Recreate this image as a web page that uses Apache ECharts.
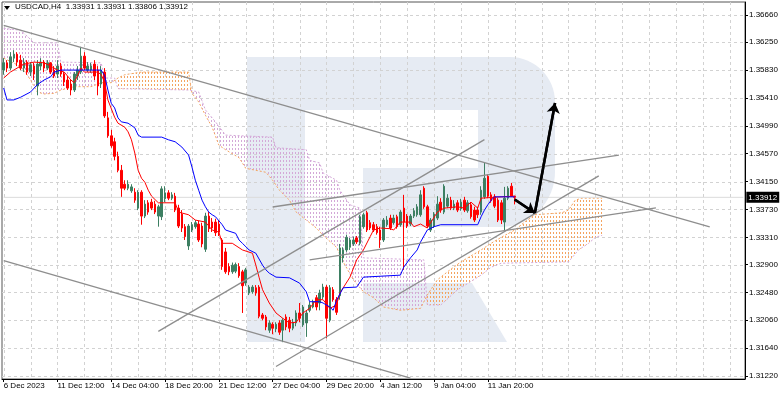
<!DOCTYPE html>
<html><head><meta charset="utf-8">
<script src="https://cdn.jsdelivr.net/npm/echarts@6/dist/echarts.min.js"></script>
<style>html,body{margin:0;padding:0;background:#fff}#c{width:782px;height:396px}</style>
</head><body><div id="c"></div>
<script>
const symbolTitle = 'USDCAD,H4';
const barCount = 221;
const xTickLabels = ['6 Dec 2023','11 Dec 12:00','14 Dec 04:00','18 Dec 20:00','21 Dec 12:00','27 Dec 04:00','29 Dec 20:00','4 Jan 12:00','9 Jan 04:00','11 Jan 20:00'];
const yTickLabels = ['1.36660','1.36250','1.35830','1.35410','1.34990','1.34570','1.34150','1.33730','1.33310','1.32900','1.32480','1.32060','1.31640','1.31220'];
const yMin = 1.31175, yMax = 1.36856;
// [open, close, low, high]
const ohlc = [
[1.3583,1.3594,1.3576,1.3601],[1.3594,1.3586,1.3580,1.3598],[1.3586,1.3603,1.3583,1.3610],[1.3601,1.3607,1.3595,1.3613],
[1.3607,1.3595,1.3589,1.3610],[1.3598,1.3586,1.3583,1.3606],[1.3586,1.3595,1.3580,1.3601],[1.3595,1.3580,1.3576,1.3598],
[1.3580,1.3591,1.3574,1.3595],[1.3589,1.3577,1.3568,1.3594],[1.3559,1.3592,1.3545,1.3598],[1.3589,1.3595,1.3583,1.3601],
[1.3595,1.3586,1.3580,1.3598],[1.3586,1.3594,1.3583,1.3598],[1.3594,1.3580,1.3577,1.3595],[1.3583,1.3574,1.3571,1.3589],
[1.3577,1.3589,1.3571,1.3598],[1.3589,1.3577,1.3573,1.3594],[1.3577,1.3565,1.3559,1.3580],[1.3568,1.3556,1.3553,1.3574],
[1.3562,1.3553,1.3545,1.3568],[1.3553,1.3577,1.3550,1.3580],[1.3574,1.3583,1.3568,1.3589],[1.3580,1.3604,1.3577,1.3618],
[1.3604,1.3586,1.3583,1.3610],[1.3583,1.3589,1.3580,1.3595],[1.3583,1.3589,1.3579,1.3594],[1.3592,1.3574,1.3568,1.3598],
[1.3583,1.3559,1.3545,1.3589],[1.3562,1.3583,1.3556,1.3589],[1.3580,1.3514,1.3511,1.3586],[1.3511,1.3484,1.3481,1.3520],
[1.3484,1.3469,1.3466,1.3493],[1.3475,1.3453,1.3447,1.3481],[1.3453,1.3432,1.3429,1.3460],[1.3432,1.3405,1.3392,1.3440],
[1.3411,1.3405,1.3402,1.3417],[1.3405,1.3411,1.3402,1.3417],[1.3401,1.3407,1.3398,1.3411],[1.3399,1.3387,1.3383,1.3405],
[1.3375,1.3399,1.3372,1.3402],[1.3399,1.3363,1.3350,1.3402],[1.3363,1.3381,1.3360,1.3387],[1.3383,1.3369,1.3365,1.3387],
[1.3384,1.3375,1.3372,1.3389],[1.3381,1.3369,1.3366,1.3386],[1.3363,1.3377,1.3347,1.3380],[1.3362,1.3404,1.3357,1.3408],
[1.3389,1.3398,1.3384,1.3408],[1.3398,1.3390,1.3387,1.3402],[1.3390,1.3395,1.3387,1.3399],[1.3393,1.3372,1.3369,1.3398],
[1.3375,1.3348,1.3345,1.3380],[1.3366,1.3345,1.3339,1.3372],[1.3347,1.3332,1.3327,1.3351],[1.3318,1.3348,1.3312,1.3351],
[1.3342,1.3350,1.3339,1.3354],[1.3347,1.3353,1.3344,1.3357],[1.3351,1.3327,1.3324,1.3356],[1.3348,1.3321,1.3316,1.3353],
[1.3313,1.3363,1.3309,1.3368],[1.3363,1.3344,1.3339,1.3369],[1.3354,1.3345,1.3339,1.3360],[1.3354,1.3338,1.3333,1.3359],
[1.3351,1.3339,1.3333,1.3357],[1.3327,1.3287,1.3282,1.3330],[1.3309,1.3279,1.3276,1.3315],[1.3287,1.3279,1.3274,1.3292],
[1.3279,1.3289,1.3276,1.3293],[1.3280,1.3290,1.3277,1.3293],[1.3287,1.3273,1.3270,1.3292],[1.3279,1.3258,1.3217,1.3282],
[1.3262,1.3282,1.3258,1.3285],[1.3247,1.3256,1.3244,1.3259],[1.3249,1.3256,1.3246,1.3259],[1.3255,1.3247,1.3243,1.3259],
[1.3256,1.3212,1.3209,1.3259],[1.3214,1.3209,1.3206,1.3217],[1.3211,1.3196,1.3191,1.3214],[1.3191,1.3202,1.3187,1.3206],
[1.3200,1.3194,1.3185,1.3203],[1.3193,1.3200,1.3188,1.3203],[1.3202,1.3188,1.3184,1.3206],[1.3191,1.3206,1.3173,1.3209],
[1.3211,1.3196,1.3191,1.3215],[1.3206,1.3194,1.3188,1.3211],[1.3194,1.3203,1.3191,1.3208],[1.3202,1.3217,1.3197,1.3221],
[1.3217,1.3209,1.3203,1.3232],[1.3199,1.3226,1.3196,1.3229],[1.3202,1.3217,1.3181,1.3221],[1.3221,1.3229,1.3218,1.3234],
[1.3226,1.3234,1.3224,1.3237],[1.3240,1.3226,1.3221,1.3244],[1.3232,1.3247,1.3221,1.3252],[1.3241,1.3256,1.3238,1.3261],
[1.3256,1.3209,1.3179,1.3259],[1.3206,1.3255,1.3203,1.3259],[1.3252,1.3237,1.3234,1.3256],[1.3237,1.3218,1.3214,1.3241],
[1.3243,1.3315,1.3237,1.3321],[1.3300,1.3312,1.3293,1.3316],[1.3312,1.3331,1.3309,1.3335],[1.3316,1.3327,1.3312,1.3330],
[1.3321,1.3327,1.3318,1.3332],[1.3330,1.3324,1.3321,1.3333],[1.3322,1.3362,1.3319,1.3365],[1.3347,1.3365,1.3344,1.3368],
[1.3368,1.3342,1.3339,1.3371],[1.3353,1.3345,1.3342,1.3357],[1.3350,1.3342,1.3339,1.3354],[1.3347,1.3338,1.3335,1.3351],
[1.3342,1.3327,1.3315,1.3347],[1.3327,1.3357,1.3324,1.3360],[1.3350,1.3357,1.3347,1.3363],[1.3360,1.3345,1.3342,1.3365],
[1.3353,1.3360,1.3350,1.3365],[1.3362,1.3347,1.3344,1.3365],[1.3350,1.3369,1.3347,1.3372],[1.3375,1.3354,1.3282,1.3395],
[1.3363,1.3348,1.3345,1.3366],[1.3351,1.3363,1.3348,1.3366],[1.3363,1.3371,1.3360,1.3375],[1.3365,1.3377,1.3362,1.3381],
[1.3365,1.3395,1.3362,1.3402],[1.3405,1.3377,1.3374,1.3408],[1.3377,1.3348,1.3345,1.3380],[1.3342,1.3357,1.3339,1.3360],
[1.3348,1.3366,1.3345,1.3369],[1.3360,1.3381,1.3357,1.3393],[1.3384,1.3372,1.3368,1.3390],[1.3369,1.3408,1.3366,1.3411],
[1.3378,1.3390,1.3375,1.3396],[1.3387,1.3375,1.3372,1.3392],[1.3375,1.3381,1.3372,1.3387],[1.3383,1.3372,1.3369,1.3387],
[1.3374,1.3384,1.3371,1.3389],[1.3387,1.3372,1.3369,1.3392],[1.3371,1.3383,1.3368,1.3387],[1.3380,1.3362,1.3359,1.3384],
[1.3372,1.3357,1.3354,1.3377],[1.3372,1.3365,1.3360,1.3377],[1.3369,1.3402,1.3365,1.3408],[1.3392,1.3420,1.3389,1.3443],
[1.3423,1.3393,1.3390,1.3426],[1.3395,1.3386,1.3383,1.3399],[1.3392,1.3378,1.3375,1.3396],[1.3387,1.3357,1.3354,1.3390],
[1.3383,1.3357,1.3351,1.3387],[1.3354,1.3390,1.3342,1.3407],[1.3390,1.3405,1.3387,1.3408],[1.3408,1.3393,1.3392,1.3413],
[1.33931,1.33912,1.33806,1.33931]
];
// Ichimoku lines: [bar, price]
const tenkan = [[0,1.3571],[2,1.3580],[6,1.3592],[9,1.3595],[12,1.3594],[14,1.3589],[16,1.3583],[18,1.3580],[20,1.3568],[21,1.3564],[23,1.3586],[24,1.3580],[28,1.3580],[29,1.3576],[30,1.3565],[31,1.3538],[33,1.3512],[34,1.3503],[36,1.3497],[37,1.3490],[38,1.3478],[39,1.3458],[40,1.3432],[41,1.3420],[42,1.3414],[43,1.3402],[44,1.3393],[46,1.3383],[51,1.3383],[52,1.3369],[55,1.3365],[57,1.3357],[60,1.3354],[62,1.3342],[64,1.3339],[65,1.3322],[68,1.3322],[71,1.3312],[74,1.3307],[75,1.3289],[76,1.3270],[77,1.3252],[79,1.3232],[81,1.3217],[83,1.3209],[85,1.3202],[87,1.3203],[89,1.3217],[91,1.3224],[93,1.3237],[95,1.3237],[97,1.3224],[99,1.3229],[100,1.3247],[103,1.3271],[105,1.3297],[107,1.3312],[109,1.3332],[110,1.3342],[112,1.3345],[115,1.3344],[116,1.3342],[118,1.3354],[121,1.3354],[122,1.3347],[124,1.3351],[126,1.3345],[129,1.3369],[131,1.3375],[135,1.3377],[137,1.3375],[139,1.3384],[141,1.3375],[142,1.3390],[148,1.3392],[152,1.3393]];
const kijun = [[0,1.3556],[1,1.3538],[3,1.3538],[5,1.3542],[8,1.3550],[10,1.3561],[12,1.3568],[14,1.3573],[15,1.3580],[17,1.3583],[29,1.3583],[30,1.3575],[31,1.3553],[32,1.3533],[33,1.3526],[34,1.3511],[35,1.3505],[37,1.3503],[39,1.3496],[40,1.3485],[41,1.3482],[47,1.3482],[49,1.3478],[51,1.3475],[53,1.3467],[55,1.3455],[56,1.3437],[57,1.3417],[58,1.3402],[59,1.3387],[60,1.3377],[61,1.3369],[62,1.3365],[63,1.3362],[65,1.3350],[66,1.3342],[69,1.3337],[70,1.3327],[71,1.3322],[73,1.3312],[75,1.3307],[77,1.3289],[78,1.3282],[79,1.3277],[81,1.3271],[85,1.3270],[88,1.3262],[90,1.3249],[91,1.3234],[94,1.3234],[95,1.3232],[97,1.3226],[98,1.3221],[99,1.3236],[101,1.3255],[105,1.3256],[107,1.3271],[118,1.3274],[119,1.3286],[121,1.3300],[123,1.3312],[124,1.3324],[126,1.3342],[128,1.3347],[130,1.3350],[141,1.3350],[142,1.3362],[143,1.3372],[144,1.3380],[145,1.3387],[146,1.3392],[152,1.3392]];
const senkouA = [[0,1.3601],[4,1.3591],[6,1.3583],[8,1.3568],[10,1.3550],[12,1.3547],[15,1.3548],[17,1.3553],[21,1.3558],[26,1.3558],[29,1.3564],[32,1.3564],[34,1.3571],[36,1.3576],[41,1.3580],[55,1.3580],[56,1.3548],[58,1.3535],[60,1.3515],[62,1.3497],[64,1.3470],[66,1.3463],[70,1.3451],[72,1.3435],[78,1.3429],[80,1.3417],[82,1.3402],[85,1.3387],[87,1.3369],[90,1.3357],[93,1.3345],[95,1.3334],[99,1.3316],[101,1.3294],[104,1.3267],[107,1.3249],[110,1.3240],[113,1.3226],[118,1.3221],[124,1.3224],[126,1.3244],[129,1.3267],[132,1.3279],[136,1.3294],[142,1.3312],[145,1.3322],[148,1.3331],[152,1.3342],[155,1.3354],[158,1.3365],[166,1.3368],[168,1.3372],[170,1.3387],[172,1.3390],[178,1.3390]];
const senkouB = [[0,1.3646],[5,1.3643],[7,1.3634],[9,1.3624],[16,1.3624],[17,1.3595],[29,1.3594],[30,1.3571],[33,1.3571],[34,1.3555],[55,1.3553],[58,1.3550],[60,1.3523],[63,1.3505],[66,1.3485],[80,1.3482],[81,1.3466],[90,1.3463],[91,1.3447],[94,1.3443],[95,1.3428],[99,1.3417],[100,1.3402],[103,1.3380],[106,1.3375],[107,1.3300],[125,1.3297],[126,1.3229],[130,1.3229],[135,1.3252],[142,1.3274],[145,1.3286],[148,1.3292],[168,1.3294],[171,1.3312],[174,1.3322],[176,1.3331],[178,1.3334]];
const trendLines = [
  [[0,1.36502],[210,1.33468]],
  [[0,1.32960],[121,1.31190]],
  [[46,1.31893],[143,1.34782]],
  [[81,1.31363],[177,1.34235]],
  [[80,1.33767],[183,1.34547]],
  [[91,1.32971],[194,1.33753]]
];
const arrows = [
  [[152,1.33880],[158,1.33676]],
  [[158,1.33676],[164,1.35334]]
];

const FONT = 'Liberation Sans, Arial, sans-serif';
const bars = Array.from({length: barCount}, (_, i) => String(i));
const yTickValues = yTickLabels.map(Number);
const last = ohlc[ohlc.length - 1];
const lastClose = last[1];
const labelIdx = (i) => i % 16 === 0 && i / 16 < xTickLabels.length;

function makePattern(color) {
  const c = document.createElement('canvas');
  c.width = 3; c.height = 4;
  const g = c.getContext('2d');
  g.fillStyle = color;
  g.fillRect(1, 0, 1, 2);
  return c;
}
const patOrange = makePattern('#f4a460');
const patPink = makePattern('#d4a8d8');

function interp(pts, x) {
  if (x <= pts[0][0]) return pts[0][1];
  for (let i = 1; i < pts.length; i++) {
    if (x <= pts[i][0]) {
      const a = pts[i - 1], b = pts[i];
      const t = (x - a[0]) / ((b[0] - a[0]) || 1);
      return a[1] + t * (b[1] - a[1]);
    }
  }
  return pts[pts.length - 1][1];
}

function renderCloud(params, api) {
  const A = senkouA.map(p => api.coord(p));
  const B = senkouB.map(p => api.coord(p));
  const xs = Array.from(new Set(A.map(p => p[0]).concat(B.map(p => p[0])))).sort((a, b) => a - b);
  const rows = xs.map(x => [x, interp(A, x), interp(B, x)]);
  const runs = [];
  let cur = null;
  for (let i = 0; i < rows.length; i++) {
    const r = rows[i];
    const up = r[1] <= r[2];
    if (!cur) { cur = {up, pts: [r]}; continue; }
    if (up === cur.up) { cur.pts.push(r); }
    else {
      const p = rows[i - 1];
      const d0 = p[1] - p[2], d1 = r[1] - r[2];
      const t = d0 / (d0 - d1);
      const xc = p[0] + t * (r[0] - p[0]);
      const yc = p[1] + t * (r[1] - p[1]);
      const c = [xc, yc, yc];
      cur.pts.push(c); runs.push(cur);
      cur = {up, pts: [c, r]};
    }
  }
  runs.push(cur);
  return {
    type: 'group',
    children: runs.map(run => ({
      type: 'polygon',
      shape: {points: run.pts.map(r => [r[0], r[1]]).concat(run.pts.slice().reverse().map(r => [r[0], r[2]]))},
      style: {fill: {image: run.up ? patOrange : patPink, repeat: 'repeat'}, stroke: null}
    }))
  };
}

function renderGrid(params, api) {
  const cs = params.coordSys;
  const ch = [];
  yTickValues.forEach(v => {
    const y = Math.round(api.coord([0, v])[1]) + 0.5;
    ch.push({type: 'line', shape: {x1: cs.x, y1: y, x2: cs.x + cs.width, y2: y},
      style: {stroke: '#d2d2d2', lineWidth: 1, lineDash: [3, 3]}});
  });
  for (let i = 0; i < bars.length; i += 8) {
    const x = Math.round(api.coord([i, yTickValues[0]])[0]) + 0.5;
    ch.push({type: 'line', shape: {x1: x, y1: cs.y, x2: x, y2: cs.y + cs.height},
      style: {stroke: '#d2d2d2', lineWidth: 1, lineDash: [3, 3]}});
  }
  return {type: 'group', children: ch};
}

const wm = '#e6ebf3';
const header = symbolTitle + '  ' + [last[0], last[3], last[2], last[1]].map(v => v.toFixed(5)).join(' ');

const series = [
  {type: 'custom', name: 'grid', data: [0], renderItem: renderGrid, z: 1, silent: true},
  {type: 'custom', name: 'cloud', data: [0], renderItem: renderCloud, z: 2, silent: true},
  {type: 'line', name: 'Senkou A', data: senkouA, symbol: 'none', z: 2,
    lineStyle: {color: '#f4a460', width: 1, type: [2, 2]}},
  {type: 'line', name: 'Senkou B', data: senkouB, symbol: 'none', z: 2,
    lineStyle: {color: '#d4a8d8', width: 1, type: [2, 2]}},
  {type: 'line', name: 'bid', data: [[0, lastClose], [barCount - 1, lastClose]], symbol: 'none', z: 2,
    lineStyle: {color: '#dcdcdc', width: 1},
    endLabel: {show: true, formatter: () => lastClose.toFixed(5), backgroundColor: '#000', color: '#fff',
      fontSize: 8, fontFamily: FONT, padding: [2, 2, 1, 2], distance: 3}},
  {type: 'candlestick', name: 'USDCAD', data: ohlc, barWidth: 2, z: 3,
    itemStyle: {color: '#3d7f62', color0: '#ff0000', borderColor: '#3d7f62', borderColor0: '#ff0000', borderWidth: 1}},
  {type: 'line', name: 'Tenkan', data: tenkan, symbol: 'none', z: 4, lineStyle: {color: '#ff0000', width: 1}},
  {type: 'line', name: 'Kijun', data: kijun, symbol: 'none', z: 4, lineStyle: {color: '#0000ff', width: 1}}
];
trendLines.forEach((tl, i) => series.push({type: 'line', name: 'trend' + i, data: tl, symbol: 'none', z: 5,
  lineStyle: {color: '#8e8e8e', width: 1.3}}));
arrows.forEach((ar, i) => series.push({type: 'line', name: 'arrow' + i, data: ar, symbol: 'none', z: 6,
  lineStyle: {color: '#000', width: 2.5},
  markLine: {silent: true, symbol: ['none', 'arrow'], symbolSize: 10, label: {show: false},
    lineStyle: {color: '#000', width: 2.5, type: 'solid'},
    data: [[{coord: ar[0]}, {coord: ar[1]}]]}}));

const chart = echarts.init(document.getElementById('c'), null, {renderer: 'canvas'});
chart.setOption({
  animation: false,
  backgroundColor: '#fff',
  textStyle: {fontFamily: FONT},
  grid: {left: 2, right: 37, top: 2, bottom: 17, show: true, borderColor: '#555', borderWidth: 1},
  xAxis: {
    type: 'category', data: bars, boundaryGap: true,
    axisLine: {show: true, lineStyle: {color: '#000'}},
    axisTick: {show: true, interval: labelIdx, alignWithLabel: true, length: 3, lineStyle: {color: '#000'}},
    axisLabel: {interval: labelIdx, formatter: (v, i) => xTickLabels[i / 16] || '', align: 'left',
      margin: 3, fontSize: 8, color: '#000', fontFamily: FONT},
    splitLine: {show: false}
  },
  yAxis: {
    type: 'value', position: 'right', min: yMin, max: yMax, scale: true,
    axisLine: {show: true, lineStyle: {color: '#000'}},
    axisTick: {show: true, length: 3, customValues: yTickValues, lineStyle: {color: '#000'}},
    axisLabel: {customValues: yTickValues, formatter: v => v.toFixed(5), margin: 4, fontSize: 8, color: '#000', fontFamily: FONT},
    splitLine: {show: false}
  },
  graphic: {elements: [
    {type: 'rect', z: 0, silent: true, shape: {x: 247, y: 57, width: 58, height: 285}, style: {fill: wm}},
    {type: 'rect', z: 0, silent: true, shape: {x: 305, y: 57, width: 200, height: 53}, style: {fill: wm}},
    {type: 'rect', z: 0, silent: true, shape: {x: 478, y: 57, width: 77, height: 170, r: [0, 45, 55, 0]}, style: {fill: wm}},
    {type: 'rect', z: 0, silent: true, shape: {x: 363, y: 168, width: 140, height: 59}, style: {fill: wm}},
    {type: 'polygon', z: 0, silent: true, shape: {points: [[363, 283], [472, 283], [507, 342], [363, 342]]}, style: {fill: wm}},
    {type: 'polygon', z: 100, silent: true, shape: {points: [[4, 6], [10, 6], [7, 10]]}, style: {fill: '#000'}},
    {type: 'text', z: 100, silent: true, left: 15, top: 3, style: {text: header, fill: '#000', font: '8px ' + FONT}}
  ]},
  series
});
</script>
</body></html>
